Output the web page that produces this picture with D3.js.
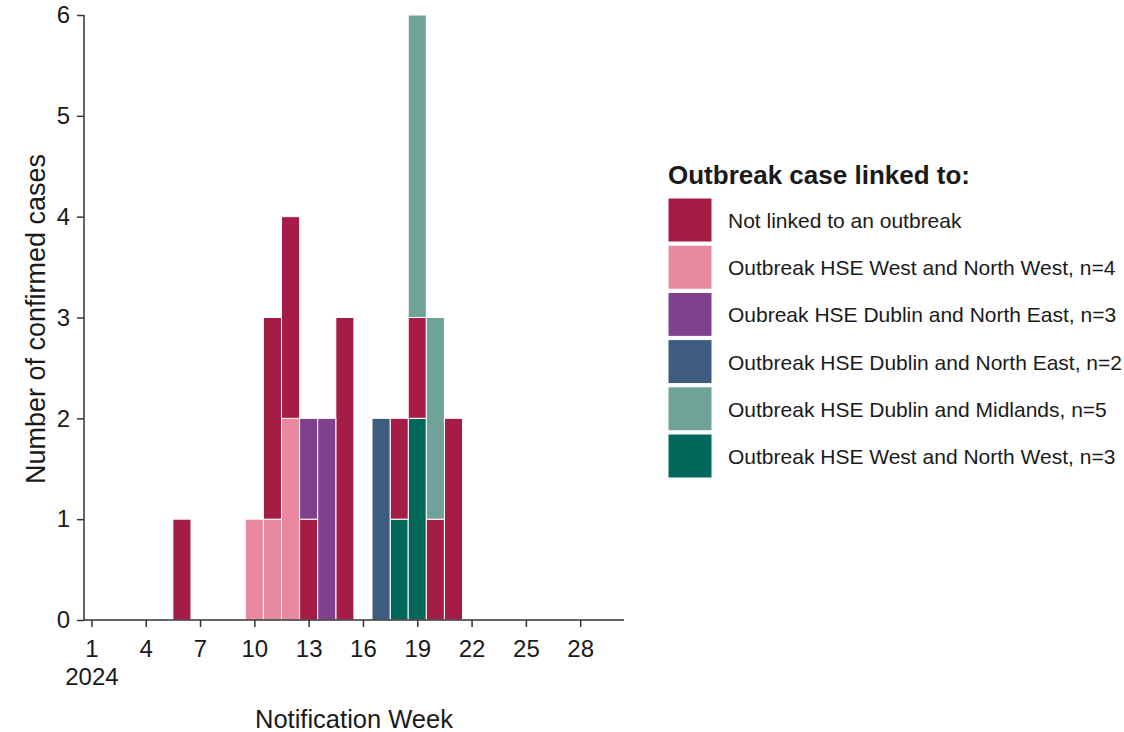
<!DOCTYPE html>
<html>
<head>
<meta charset="utf-8">
<script src="https://cdn.jsdelivr.net/npm/d3@7"></script>
<style>
  body { margin: 0; background: #fff; }
  text { font-family: "Liberation Sans", Arial, sans-serif; fill: #1a1a1a; }
</style>
</head>
<body>
<div id="chart"></div>
<script>
// notification weeks that had cases, and counts per group (aligned to caseWeeks)
const caseWeeks  = [6, 10, 11, 12, 13, 14, 15, 17, 18, 19, 20, 21];
const notLinked  = [1, 0, 2, 2, 1, 0, 3, 0, 1, 1, 1, 2];
const westNW4    = [0, 1, 1, 2, 0, 0, 0, 0, 0, 0, 0, 0];
const dublinNE3  = [0, 0, 0, 0, 1, 2, 0, 0, 0, 0, 0, 0];
const dublinNE2  = [0, 0, 0, 0, 0, 0, 0, 2, 0, 0, 0, 0];
const dublinMid5 = [0, 0, 0, 0, 0, 0, 0, 0, 0, 3, 2, 0];
const westNW3    = [0, 0, 0, 0, 0, 0, 0, 0, 1, 2, 0, 0];

const xTicks = [1, 4, 7, 10, 13, 16, 19, 22, 25, 28];
const yTicks = [0, 1, 2, 3, 4, 5, 6];

// legend order
const legendKeys = ["notLinked", "westNW4", "dublinNE3", "dublinNE2", "dublinMid5", "westNW3"];
const legendLabels = [
    "Not linked to an outbreak",
    "Outbreak HSE West and North West, n=4",
    "Oubreak HSE Dublin and North East, n=3",
    "Outbreak HSE Dublin and North East, n=2",
    "Outbreak HSE Dublin and Midlands, n=5",
    "Outbreak HSE West and North West, n=3"
];
const colors = ["#a51d44", "#e8899f", "#80418c", "#3e5c80", "#70a398", "#00685a"];
// stacking order, bottom to top
const stackOrder = ["westNW3", "westNW4", "notLinked", "dublinNE3", "dublinNE2", "dublinMid5"];

const seriesData = { notLinked, westNW4, dublinNE3, dublinNE2, dublinMid5, westNW3 };

const rows = caseWeeks.map(function(w, i) {
    const r = { week: w };
    legendKeys.forEach(k => r[k] = seriesData[k][i]);
    return r;
});

const width = 1124, height = 732;
const plot = { left: 84, right: 624, top: 15, bottom: 620 };

const svg = d3.select("#chart").append("svg")
    .attr("width", width)
    .attr("height", height);

const x = d3.scaleLinear().domain([0.59, 30.42]).range([plot.left, plot.right]);
const y = d3.scaleLinear().domain([0, 6]).range([plot.bottom, plot.top]);
const color = d3.scaleOrdinal().domain(legendKeys).range(colors);

const stacked = d3.stack().keys(stackOrder)(rows);

svg.append("g")
    .selectAll("g")
    .data(stacked)
    .join("g")
    .attr("fill", d => color(d.key))
    .selectAll("rect")
    .data(d => d.filter(s => s[1] > s[0]))
    .join("rect")
    .attr("x", d => x(d.data.week - 0.5))
    .attr("width", d => x(d.data.week + 0.5) - x(d.data.week - 0.5))
    .attr("y", d => y(d[1]))
    .attr("height", d => y(d[0]) - y(d[1]))
    .attr("stroke", "#fff")
    .attr("stroke-width", 1);

// axes
const xAxis = d3.axisBottom(x).tickValues(xTicks).tickSize(7).tickPadding(13).tickSizeOuter(0);
const gx = svg.append("g")
    .attr("transform", "translate(0," + plot.bottom + ")")
    .call(xAxis);
gx.select(".domain").remove();
gx.selectAll("text").style("font-size", "24px").style("fill", "#1a1a1a");
gx.selectAll(".tick line").attr("stroke", "#333").attr("stroke-width", 1.5);
gx.selectAll(".tick").filter(d => d === 1)
    .select("text")
    .append("tspan")
    .attr("x", 0)
    .attr("dy", "1.15em")
    .text("2024");

const yAxis = d3.axisLeft(y).tickValues(yTicks).tickFormat(d3.format("d")).tickSize(7).tickPadding(7).tickSizeOuter(0);
const gy = svg.append("g")
    .attr("transform", "translate(" + plot.left + ",0)")
    .call(yAxis);
gy.select(".domain").remove();
gy.selectAll("text").style("font-size", "24px").style("fill", "#1a1a1a");
gy.selectAll(".tick line").attr("stroke", "#333").attr("stroke-width", 1.5);

svg.append("line")
    .attr("x1", plot.left).attr("x2", plot.right)
    .attr("y1", plot.bottom).attr("y2", plot.bottom)
    .attr("stroke", "#333").attr("stroke-width", 1.5);
svg.append("line")
    .attr("x1", plot.left).attr("x2", plot.left)
    .attr("y1", plot.top).attr("y2", plot.bottom)
    .attr("stroke", "#333").attr("stroke-width", 1.5);

// axis titles
svg.append("text")
    .attr("x", (plot.left + plot.right) / 2)
    .attr("y", 728)
    .attr("text-anchor", "middle")
    .style("font-size", "25.5px")
    .text("Notification Week");

svg.append("text")
    .attr("transform", "translate(45," + 319 + ") rotate(-90)")
    .attr("text-anchor", "middle")
    .style("font-size", "27px")
    .text("Number of confirmed cases");

// legend
const legend = svg.append("g").attr("transform", "translate(668,0)");
legend.append("text")
    .attr("x", 0)
    .attr("y", 184)
    .style("font-size", "26px")
    .style("font-weight", "bold")
    .text("Outbreak case linked to:");

const item = legend.selectAll("g.item")
    .data(legendKeys)
    .join("g")
    .attr("class", "item")
    .attr("transform", (d, i) => "translate(0," + (198 + i * 47.2) + ")");
item.append("rect")
    .attr("width", 44)
    .attr("height", 44)
    .attr("fill", d => color(d))
    .attr("stroke", "#fff")
    .attr("stroke-width", 1);
item.append("text")
    .attr("x", 60)
    .attr("y", 30)
    .style("font-size", "21px")
    .text((d, i) => legendLabels[i]);
</script>
</body>
</html>
